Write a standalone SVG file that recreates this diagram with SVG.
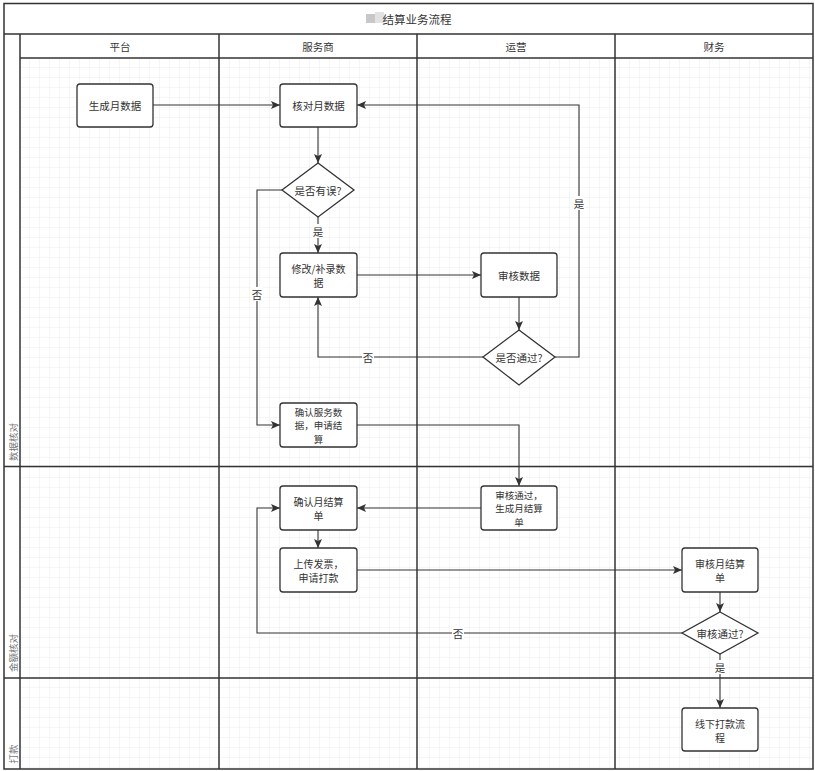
<svg xmlns="http://www.w3.org/2000/svg" width="815" height="771" viewBox="0 0 815 771">
<style>
.t{font-family:"Noto Sans CJK SC","Liberation Sans",sans-serif;font-size:10.5px;fill:#333;text-anchor:middle;dominant-baseline:central}
.t2{font-family:"Noto Sans CJK SC","Liberation Sans",sans-serif;font-size:10px;fill:#333;text-anchor:middle;dominant-baseline:central}
.t3{font-family:"Noto Sans CJK SC","Liberation Sans",sans-serif;font-size:9.5px;fill:#333;text-anchor:middle;dominant-baseline:central}
.h{font-family:"Noto Sans CJK SC","Liberation Sans",sans-serif;font-size:10.5px;fill:#333;text-anchor:middle;dominant-baseline:central}
.lane{font-family:"Noto Sans CJK SC","Liberation Sans",sans-serif;font-size:9.5px;fill:#777;text-anchor:middle;dominant-baseline:central}
.b{fill:#fff;stroke:#333;stroke-width:1.3}
.ln{fill:none;stroke:#333;stroke-width:1.5}
.c{fill:none;stroke:#333;stroke-width:1.1}
.lb{fill:#fff}
</style>
<defs>
<pattern id="grid" width="10" height="10" patternUnits="userSpaceOnUse" x="20" y="58">
<path d="M10,0 V10 M0,10 H10" fill="none" stroke="#ececec" stroke-width="1"/>
</pattern>
<marker id="ar" markerUnits="userSpaceOnUse" markerWidth="10" markerHeight="8" refX="9" refY="4" orient="auto">
<path d="M0,0 L9,4 L0,8 L2,4 z" fill="#333"/>
</marker>
</defs>
<rect x="0" y="0" width="815" height="771" fill="#fff"/>
<rect x="20" y="58" width="793" height="711" fill="url(#grid)"/>
<g id="pool">
<rect x="4" y="3.5" width="809" height="765.5" fill="none" stroke="#333" stroke-width="1.5"/>
<line x1="4" y1="34" x2="813" y2="34" class="ln"/>
<line x1="20" y1="34" x2="20" y2="769" class="ln"/>
<line x1="20" y1="58" x2="813" y2="58" class="ln"/>
<line x1="219" y1="34" x2="219" y2="769" class="ln"/>
<line x1="417" y1="34" x2="417" y2="769" class="ln"/>
<line x1="615" y1="34" x2="615" y2="769" class="ln"/>
<line x1="4" y1="466.5" x2="813" y2="466.5" class="ln"/>
<line x1="4" y1="678" x2="813" y2="678" class="ln"/>
<rect x="366" y="14" width="9" height="9" fill="#c8c8c8"/>
<rect x="375" y="12" width="9" height="11" fill="#e2e2e2"/>
<text x="417" y="19" class="t" style="font-size:11.5px">结算业务流程</text>
<text x="120" y="46" class="h">平台</text>
<text x="318" y="46" class="h">服务商</text>
<text x="516" y="46" class="h">运营</text>
<text x="714" y="46" class="h">财务</text>
<text x="13" y="442" class="lane" transform="rotate(-90 13 442)">数据核对</text>
<text x="13" y="653" class="lane" transform="rotate(-90 13 653)">金额核对</text>
<text x="13" y="754" class="lane" transform="rotate(-90 13 754)">打款</text>
</g>
<g id="connectors">
<path d="M153,105 H280" class="c" marker-end="url(#ar)"/>
<path d="M318,127 V163" class="c" marker-end="url(#ar)"/>
<path d="M318,217 V253" class="c" marker-end="url(#ar)"/>
<path d="M283,190 H257 V425 H280" class="c" marker-end="url(#ar)"/>
<path d="M357,275 H481" class="c" marker-end="url(#ar)"/>
<path d="M519,297 V330" class="c" marker-end="url(#ar)"/>
<path d="M483,357 H318 V297" class="c" marker-end="url(#ar)"/>
<path d="M555,357 H579 V105 H357" class="c" marker-end="url(#ar)"/>
<path d="M357,425 H519 V486" class="c" marker-end="url(#ar)"/>
<path d="M481,508 H357" class="c" marker-end="url(#ar)"/>
<path d="M318,530 V548" class="c" marker-end="url(#ar)"/>
<path d="M357,570 H682" class="c" marker-end="url(#ar)"/>
<path d="M720,592 V612" class="c" marker-end="url(#ar)"/>
<path d="M682,633 H257 V508 H280" class="c" marker-end="url(#ar)"/>
<path d="M720,654 V708" class="c" marker-end="url(#ar)"/>
<rect x="312" y="224" width="12" height="14" class="lb"/><text x="318" y="231" class="t">是</text>
<rect x="251" y="287" width="12" height="14" class="lb"/><text x="257" y="294" class="t">否</text>
<rect x="362" y="350" width="12" height="14" class="lb"/><text x="368" y="357" class="t">否</text>
<rect x="573" y="196" width="12" height="14" class="lb"/><text x="579" y="203" class="t">是</text>
<rect x="452" y="626" width="12" height="14" class="lb"/><text x="458" y="633" class="t">否</text>
<rect x="714" y="660" width="12" height="14" class="lb"/><text x="720" y="667" class="t">是</text>
</g>
<g id="n1"><rect x="77" y="84" width="76" height="43" rx="3" class="b"/><text x="115" y="105.5" class="t">生成月数据</text></g>
<g id="n2"><rect x="280" y="84" width="77" height="43" rx="3" class="b"/><text x="318.5" y="105.5" class="t">核对月数据</text></g>
<g id="n3"><path d="M318,163 L354,190 L318,217 L282,190 Z" class="b"/><text x="318" y="190" class="t">是否有误?</text></g>
<g id="n4"><rect x="280" y="253" width="77" height="44" rx="3" class="b"/><text class="t2"><tspan x="318.5" y="268">修改/补录数</tspan><tspan x="318.5" y="282">据</tspan></text></g>
<g id="n5"><rect x="481" y="253" width="76" height="44" rx="3" class="b"/><text x="519" y="275" class="t">审核数据</text></g>
<g id="n6"><path d="M519,330 L555,357 L519,385 L483,357 Z" class="b"/><text x="519" y="357" class="t">是否通过?</text></g>
<g id="n7"><rect x="280" y="403" width="77" height="44" rx="3" class="b"/><text class="t3"><tspan x="318.5" y="411.5">确认服务数</tspan><tspan x="318.5" y="425">据，申请结</tspan><tspan x="318.5" y="438.5">算</tspan></text></g>
<g id="n8"><rect x="481" y="486" width="76" height="44" rx="3" class="b"/><text class="t3"><tspan x="519" y="494.5">审核通过，</tspan><tspan x="519" y="508">生成月结算</tspan><tspan x="519" y="521.5">单</tspan></text></g>
<g id="n9"><rect x="280" y="486" width="77" height="44" rx="3" class="b"/><text class="t2"><tspan x="318.5" y="501">确认月结算</tspan><tspan x="318.5" y="515">单</tspan></text></g>
<g id="n10"><rect x="280" y="548" width="77" height="44" rx="3" class="b"/><text class="t2"><tspan x="318.5" y="563">上传发票，</tspan><tspan x="318.5" y="577">申请打款</tspan></text></g>
<g id="n11"><rect x="682" y="548" width="76" height="44" rx="3" class="b"/><text class="t2"><tspan x="720" y="563">审核月结算</tspan><tspan x="720" y="577">单</tspan></text></g>
<g id="n12"><path d="M720,612 L758,633 L720,654 L682,633 Z" class="b"/><text x="720" y="633" class="t">审核通过?</text></g>
<g id="n13"><rect x="682" y="708" width="76" height="43" rx="3" class="b"/><text class="t2"><tspan x="720" y="722.5">线下打款流</tspan><tspan x="720" y="736.5">程</tspan></text></g>
</svg>
